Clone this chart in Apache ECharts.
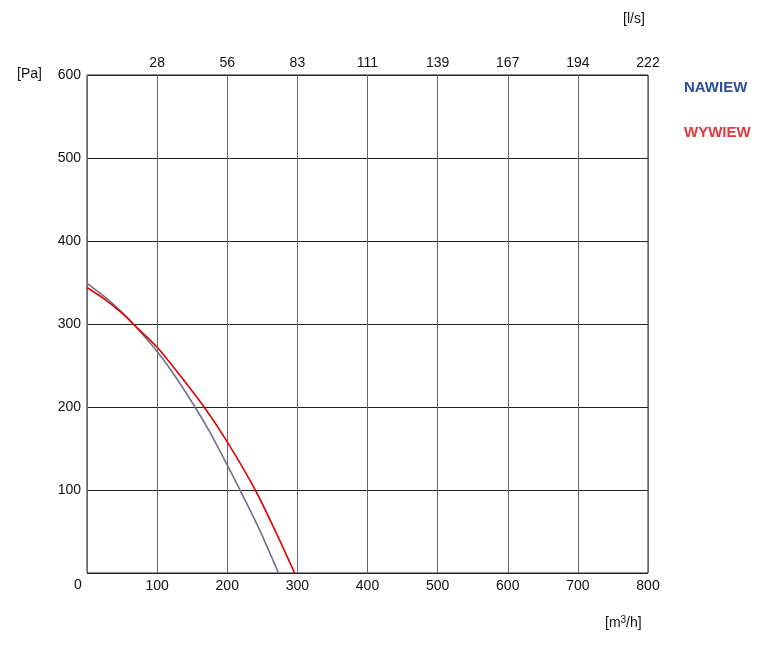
<!DOCTYPE html>
<html><head><meta charset="utf-8">
<script src="https://cdn.jsdelivr.net/npm/echarts@6/dist/echarts.min.js"></script>
<style>html,body{margin:0;padding:0;background:#fff}#c{width:772px;height:666px}</style>
</head><body><div id="c"></div>
<script>
const xTicks = [0,100,200,300,400,500,600,700,800];
const topTickLabels = ['', '28','56','83','111','139','167','194','222'];
const yTicks = [0,100,200,300,400,500,600];
const seriesNames = ['NAWIEW','WYWIEW'];
const nawiewQ = [0, 25, 50, 66, 100, 125, 154, 175, 200, 217, 245, 273];
const nawiewP = [349, 333, 314, 300, 267, 238, 200, 170, 130, 102, 54, 0];
const wywiewQ = [0, 25, 50, 66, 100, 130, 167, 200, 240, 270, 296];
const wywiewP = [344, 330, 313, 300, 272, 241, 200, 158, 100, 48, 0];

const font = 'Liberation Sans, Arial, sans-serif';
const chart = echarts.init(document.getElementById('c'), null, {renderer:'canvas'});
const zip = (a,b) => a.map((v,i)=>[v,b[i]]);
chart.setOption({
  animation:false,
  backgroundColor:'#fff',
  grid:{left:87,right:124,top:75,bottom:93,show:true,borderColor:'#222',borderWidth:1},
  legend:{
    orient:'vertical', left:674, top:75, itemGap:30, itemWidth:0, itemHeight:0, icon:'rect',
    textStyle:{fontFamily:font,fontSize:15,fontWeight:'bold'},
    data:[{name:seriesNames[0],textStyle:{color:'#2c4f9b'}},{name:seriesNames[1],textStyle:{color:'#e8353b'}}]
  },
  xAxis:[{
    type:'value', min:0, max:800, interval:100, position:'bottom',
    axisLine:{show:false}, axisTick:{show:false},
    axisLabel:{color:'#111',fontFamily:font,fontSize:14,margin:6,formatter:v=> v===0?'':String(v)},
    splitLine:{show:true,lineStyle:{color:'#666',width:1}}
  },{
    type:'value', min:0, max:800, interval:100, position:'top',
    axisLine:{show:false}, axisTick:{show:false},
    axisLabel:{color:'#111',fontFamily:font,fontSize:14,margin:5,formatter:v=> topTickLabels[xTicks.indexOf(v)] || ''},
    splitLine:{show:false}
  }],
  yAxis:{
    type:'value', min:0, max:600, interval:100,
    axisLine:{show:false}, axisTick:{show:false},
    axisLabel:{color:'#111',fontFamily:font,fontSize:14,margin:6,formatter:v=> v===0?'':String(v)},
    splitLine:{show:true,lineStyle:{color:'#222',width:1}}
  },
  series:[
    {name:seriesNames[0],type:'line',smooth:0.25,showSymbol:false,data:zip(nawiewQ,nawiewP),
     lineStyle:{color:'#70708e',width:1.6},itemStyle:{color:'#70708e'}},
    {name:seriesNames[1],type:'line',smooth:0.25,showSymbol:false,data:zip(wywiewQ,wywiewP),
     lineStyle:{color:'#e00000',width:1.6},itemStyle:{color:'#e00000'}}
  ],
  graphic:[
    {type:'text',left:17,top:67,style:{text:'[Pa]',fontFamily:font,fontSize:14,fill:'#111'}},
    {type:'text',left:74,top:578,style:{text:'0',fontFamily:font,fontSize:14,fill:'#111'}},
    {type:'text',left:623,top:12,style:{text:'[l/s]',fontFamily:font,fontSize:14,fill:'#111'}},
    {type:'text',left:605,top:615,style:{rich:{a:{fontFamily:font,fontSize:14,fill:'#111'},s:{fontFamily:font,fontSize:10,fill:'#111',verticalAlign:'top',padding:[0,0,7,0]}},text:'{a|[m}{s|3}{a|/h]}'}}
  ]
});
</script></body></html>
